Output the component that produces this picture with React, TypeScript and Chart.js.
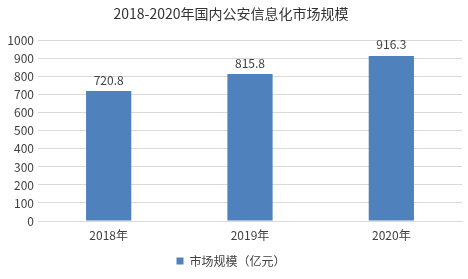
import React, { useEffect, useRef } from "react";
import { Chart, registerables } from "chart.js";

Chart.register(...registerables);

const categories = ["2018年", "2019年", "2020年"];
const seriesName = "市场规模（亿元）";
const values = [720.8, 815.8, 916.3];
const titleText = "2018-2020年国内公安信息化市场规模";
const FONT = "'Noto Sans CJK SC', 'Noto Sans', sans-serif";

const labelPlugin = {
  id: "barLabels",
  afterDatasetsDraw(chart: any) {
    const ctx = chart.ctx;
    const meta = chart.getDatasetMeta(0);
    ctx.save();
    ctx.font = `12px ${FONT}`;
    ctx.fillStyle = "#404040";
    ctx.textAlign = "center";
    ctx.textBaseline = "bottom";
    meta.data.forEach((bar: any, i: number) => {
      ctx.fillText(values[i].toFixed(1), bar.x, bar.y - 5);
    });
    ctx.restore();
  },
};

export default function App() {
  const ref = useRef<HTMLCanvasElement>(null);
  useEffect(() => {
    document.body.style.margin = "0";
    const chart = new Chart(ref.current!, {
      type: "bar",
      data: {
        labels: categories,
        datasets: [
          {
            label: seriesName,
            data: values,
            backgroundColor: "#4f81bd",
            categoryPercentage: 1,
            barPercentage: 0.32,
          },
        ],
      },
      options: {
        animation: false,
        responsive: false,
        layout: { padding: { top: 0, right: 6, bottom: 2, left: 0 } },
        plugins: {
          title: {
            display: true,
            text: titleText,
            color: "#333333",
            font: { family: FONT, size: 14, weight: "normal" },
            padding: { top: 5, bottom: 19 },
          },
          legend: {
            position: "bottom",
            labels: {
              boxWidth: 7,
              boxHeight: 7,
              color: "#404040",
              font: { family: FONT, size: 12 },
              padding: 4,
            },
          },
          tooltip: { enabled: false },
        },
        scales: {
          x: {
            grid: { display: false, drawTicks: false },
            border: { color: "#d9d9d9" },
            ticks: { color: "#404040", font: { family: FONT, size: 12 }, padding: 7 },
            afterFit: (s: any) => {
              s.height = 30;
            },
          },
          y: {
            min: 0,
            max: 1000,
            ticks: {
              stepSize: 100,
              color: "#404040",
              font: { family: FONT, size: 12 },
              padding: 4,
              callback: (v: any) => String(v),
            },
            grid: { color: "#d9d9d9", drawTicks: false },
            border: { display: false },
            afterFit: (s: any) => {
              s.width = 38;
            },
          },
        },
      },
      plugins: [labelPlugin],
    });
    return () => chart.destroy();
  }, []);
  return (
    <div style={{ width: 468, height: 279 }}>
      <canvas ref={ref} width={468} height={279} />
    </div>
  );
}
